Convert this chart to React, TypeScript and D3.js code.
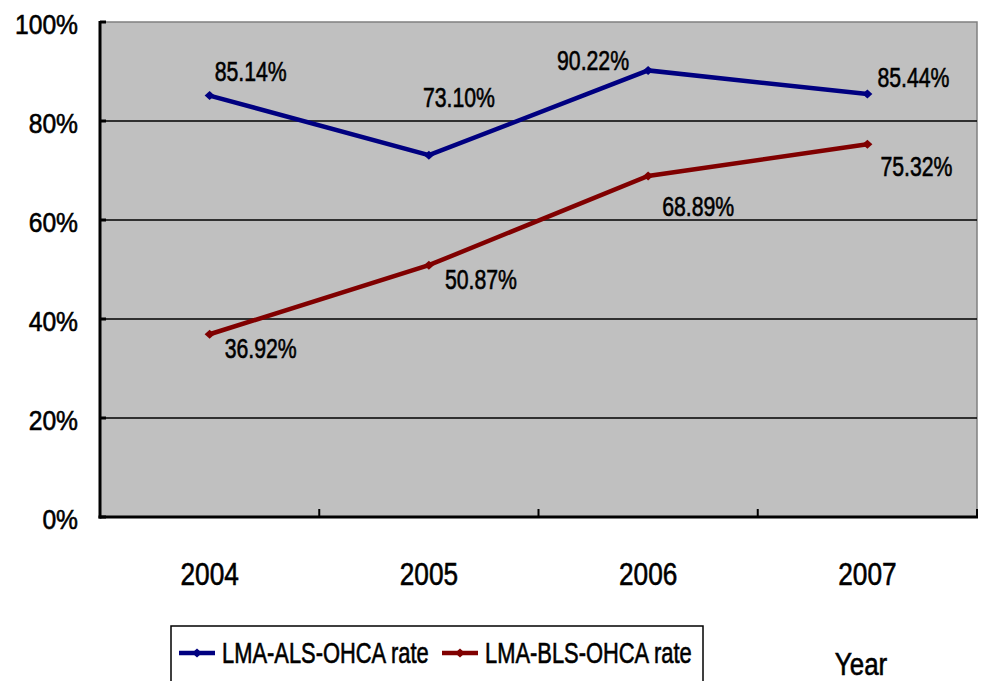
import React from "react";
import * as d3 from "d3";

const years = ["2004", "2005", "2006", "2007"];
const alsRate = [85.14, 73.1, 90.22, 85.44];
const blsRate = [36.92, 50.87, 68.89, 75.32];
const yTicks = [0, 20, 40, 60, 80, 100];
const seriesNames = ["LMA-ALS-OHCA rate", "LMA-BLS-OHCA rate"];

// label offsets (layout only): [dx, dy, anchor]
const alsLabelOff: [number, number, string][] = [
  [5, -15, "start"],
  [-6, -48, "start"],
  [-19, 0, "end"],
  [10, -7, "start"],
];
const blsLabelOff: [number, number, string][] = [
  [15, 24, "start"],
  [16, 24, "start"],
  [14, 40, "start"],
  [13, 32, "start"],
];

const W = 988;
const H = 681;
const plot = { left: 100, right: 977, top: 22, bottom: 517 };
const FONT = "'Liberation Sans', Arial, sans-serif";
const BLUE = "#000080";
const RED = "#800000";

function NText(props: {
  x: number;
  y: number;
  size: number;
  sx: number;
  anchor?: string;
  children: React.ReactNode;
}) {
  const { x, y, size, sx, anchor = "start", children } = props;
  return (
    <text
      transform={`translate(${x},${y}) scale(${sx},1)`}
      textAnchor={anchor as any}
      fontSize={size}
      fill="#000"
      stroke="#000"
      strokeWidth={0.6}
    >
      {children}
    </text>
  );
}

export default function App() {
  const x = d3
    .scaleBand<string>()
    .domain(years)
    .range([plot.left, plot.right])
    .paddingInner(0)
    .paddingOuter(0);
  const y = d3.scaleLinear().domain([0, 100]).range([plot.bottom, plot.top]);
  const cx = (d: string) => (x(d) as number) + x.bandwidth() / 2;

  const line = d3
    .line<number>()
    .x((_, i) => cx(years[i]))
    .y((v) => y(v));

  const diamond = (px: number, py: number, color: string, key: string) => (
    <path
      key={key}
      d={`M${px - 5},${py} L${px},${py - 4.5} L${px + 5},${py} L${px},${py + 4.5} Z`}
      fill={color}
    />
  );

  const series = [
    { vals: alsRate, color: BLUE, off: alsLabelOff },
    { vals: blsRate, color: RED, off: blsLabelOff },
  ];

  const boundaries = years.map((d) => (x(d) as number) + x.bandwidth());

  return (
    <svg
      width={W}
      height={H}
      style={{ position: "absolute", left: 0, top: 0, background: "#fff" }}
      fontFamily={FONT}
    >
      <rect
        x={plot.left}
        y={plot.top}
        width={plot.right - plot.left}
        height={plot.bottom - plot.top}
        fill="#C0C0C0"
        stroke="#808080"
        strokeWidth={1.5}
      />
      {yTicks
        .filter((t) => t > 0 && t < 100)
        .map((t) => (
          <line
            key={"g" + t}
            x1={plot.left}
            x2={plot.right}
            y1={y(t)}
            y2={y(t)}
            stroke="#000"
            strokeWidth={1.5}
          />
        ))}
      {/* y axis */}
      <line x1={plot.left} x2={plot.left} y1={plot.top - 1} y2={plot.bottom + 1.5} stroke="#000" strokeWidth={3} />
      {yTicks.map((t) => (
        <g key={"yt" + t}>
          <line x1={plot.left} x2={plot.left + 6} y1={y(t)} y2={y(t)} stroke="#000" strokeWidth={3} />
          <NText x={78} y={y(t) + 12} size={28} sx={0.88} anchor="end">
            {t}%
          </NText>
        </g>
      ))}
      {/* x axis */}
      <line x1={plot.left - 1.5} x2={plot.right + 1} y1={plot.bottom} y2={plot.bottom} stroke="#000" strokeWidth={3} />
      {boundaries.map((b, i) => (
        <line key={"xt" + i} x1={b} x2={b} y1={plot.bottom} y2={plot.bottom - 8} stroke="#000" strokeWidth={2} />
      ))}
      {years.map((d) => (
        <NText key={"xl" + d} x={cx(d)} y={585} size={32} sx={0.82} anchor="middle">
          {d}
        </NText>
      ))}

      {series.map((s, si) => (
        <g key={"s" + si}>
          <path d={line(s.vals) as string} fill="none" stroke={s.color} strokeWidth={4.5} />
          {s.vals.map((v, i) => diamond(cx(years[i]), y(v), s.color, `m${si}-${i}`))}
          {s.vals.map((v, i) => (
            <NText
              key={`l${si}-${i}`}
              x={cx(years[i]) + s.off[i][0]}
              y={y(v) + s.off[i][1]}
              anchor={s.off[i][2]}
              size={28}
              sx={0.76}
            >
              {v.toFixed(2)}%
            </NText>
          ))}
        </g>
      ))}

      {/* legend */}
      <rect x={171} y={626} width={532} height={56} fill="#fff" stroke="#000" strokeWidth={1.5} />
      {seriesNames.map((n, i) => {
        const lx = i === 0 ? 179 : 442;
        const color = i === 0 ? BLUE : RED;
        return (
          <g key={"lg" + i}>
            <line x1={lx} x2={lx + 36} y1={653} y2={653} stroke={color} strokeWidth={4.5} />
            {diamond(lx + 18, 653, color, "ld" + i)}
            <NText x={lx + 43} y={663} size={29} sx={0.755}>
              {n}
            </NText>
          </g>
        );
      })}
      <NText x={861} y={675} size={32} sx={0.81} anchor="middle">
        Year
      </NText>
    </svg>
  );
}
